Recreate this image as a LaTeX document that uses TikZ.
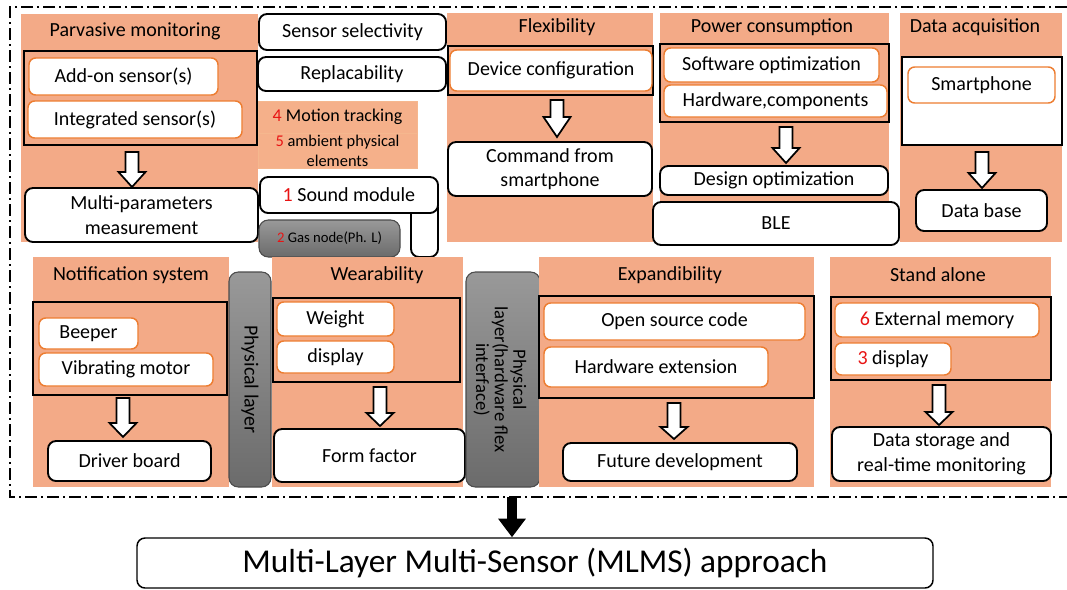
\documentclass[tikz,border=0pt]{standalone}
\usepackage{fontspec}
\setmainfont{Carlito}
\usetikzlibrary{arrows.meta,calc}
\definecolor{pnl}{RGB}{243,170,135}
\definecolor{orng}{RGB}{237,125,49}
\definecolor{lpnl}{RGB}{245,176,138}
\definecolor{num}{RGB}{232,20,20}
\newcommand\mainf{\fontsize{15}{18.5}\selectfont}
\newcommand\nm[1]{\textcolor{num}{#1}}
% box from corner (x1,y1) to (x2,y2) in px
\newcommand\bx[7][]{\node[#1, minimum width={(#5-#3)*0.75pt}, minimum height={(#6-#4)*0.75pt}] (#2) at ({(#3+#5)/2},{(#4+#6)/2}) {#7};}
\newcommand\harrow[4]{\draw[harr] ({#1-6.5},#2) -- ({#1+6.5},#2) -- ({#1+6.5},#3) -- ({#1+13.5},#3) -- (#1,#4) -- ({#1-13.5},#3) -- ({#1-6.5},#3) -- cycle;}
\tikzset{
 panel/.style={fill=pnl, draw=none, inner sep=0pt},
 grp/.style={draw=black, line width=1.3pt, inner sep=0pt},
 ibox/.style={fill=white, draw=orng, line width=1.1pt, rounded corners=5pt, inner sep=0pt, font=\mainf, align=center},
 obox/.style={fill=white, draw=black, line width=1.4pt, rounded corners=6pt, inner sep=0pt, font=\mainf, align=center},
 lbox/.style={fill=lpnl, draw=orng!55, line width=0.6pt, inner sep=0pt, align=center},
 gbar/.style={top color=black!40, bottom color=black!58, draw=black!70, line width=0.8pt, rounded corners=7pt, inner sep=0pt},
 ttl/.style={font=\mainf, inner sep=0pt},
 harr/.style={fill=white, draw=black, line width=1.3pt, line join=miter},
 frameline/.style={line width=1.5pt, dash pattern=on 9pt off 3pt on 1.5pt off 3pt},
}
\begin{document}
\begin{tikzpicture}[x=0.75pt,y=-0.75pt]
\useasboundingbox (0,0) rectangle (1067,589);
% frame
\coordinate (fTL) at (10,7); \coordinate (fTR) at (1067,7);
\coordinate (fBL) at (10,497); \coordinate (fBR) at (1067,497);
\coordinate (fOut) at (512,497);
\draw[frameline] (fTR) -- (fTL) -- (fBL) -- (fBR);

% ---------- top row ----------
\bx[panel]{p1}{21}{14}{258}{242}{}
\node[ttl] (p1t) at (135,31) {Parvasive monitoring};
\bx[grp]{g1}{24}{51}{257}{145}{}
\bx[ibox]{addon}{29}{58}{218}{95}{Add-on sensor(s)}
\bx[ibox]{integ}{28}{101}{242}{138}{Integrated sensor(s)}
\harrow{132}{152}{172}{187}
\bx[obox]{multi}{25}{188}{258}{242}{Multi-parameters\\measurement}

\bx[obox]{sel}{259}{14}{446}{50}{Sensor selectivity}
\bx[obox]{repl}{258}{57}{446}{91}{Replacability}
\bx[lbox, font=\fontsize{13.5}{15}\selectfont]{motion}{258}{101}{417}{133}{\nm{4} Motion tracking}
\bx[lbox, font=\fontsize{12.3}{15}\selectfont]{ambient}{258}{133}{417}{168}{\nm{5} ambient physical\\elements}
\bx[obox]{smallbox}{411}{200}{438}{257}{}
\bx[obox]{sound}{260}{177}{438}{213}{\nm{1} Sound module}
\bx[gbar, font=\fontsize{11}{12}\selectfont]{gas}{259}{220}{400}{257}{\nm{2} Gas node(Ph. L)}

\bx[panel]{p2}{447}{13}{653}{242}{}
\node[ttl] (p2t) at (557,27) {Flexibility};
\bx[grp]{g2}{448}{46}{653}{95}{}
\bx[ibox]{devconf}{450}{50}{652}{91}{Device configuration}
\harrow{557}{100}{117}{137}
\bx[obox]{cmd}{448}{142}{652}{196}{Command from\\smartphone}

\bx[panel]{p3}{660}{13}{889}{242}{}
\node[ttl] (p3t) at (772,27) {Power consumption};
\bx[grp]{g3}{660}{44}{889}{122}{}
\bx[ibox]{soft}{664}{48}{879}{82}{Software optimization}
\bx[ibox]{hard}{664}{85}{887}{117}{Hardware,components}
\harrow{786}{127}{148}{163}
\bx[obox]{design}{660}{166}{888}{195}{Design optimization}
\bx[obox]{ble}{653}{202}{899}{245}{BLE}

\bx[panel]{p4}{900}{13}{1062}{242}{}
\node[ttl] (p4t) at (975,27) {Data acquisition};
\bx[grp, fill=white]{g4}{902}{57}{1062}{145}{}
\bx[ibox]{smart}{908}{67}{1055}{103}{Smartphone}
\harrow{982}{152}{173}{188}
\bx[obox]{db}{916}{190}{1047}{231}{Data base}

% ---------- bottom row ----------
\bx[panel]{p5}{33}{257}{229}{487}{}
\node[ttl] (p5t) at (131,275) {Notification system};
\bx[grp]{g5}{33}{302}{227}{395}{}
\bx[ibox]{beep}{39}{318}{138}{349}{Beeper}
\bx[ibox]{vib}{39}{353}{213}{386}{Vibrating motor}
\harrow{123}{398}{423}{437}
\bx[obox]{driver}{48}{441}{211}{481}{Driver board}

\bx[gbar]{bar1}{229}{272}{271}{487}{}
\node[font=\fontsize{15}{17}\selectfont, rotate=-90] (bar1t) at (bar1.center) {Physical layer};

\bx[panel]{p6}{272}{257}{463}{487}{}
\node[ttl] (p6t) at (377,275) {Wearability};
\bx[grp]{g6}{273}{298}{460}{382}{}
\bx[ibox]{weight}{277}{302}{394}{336}{Weight}
\bx[ibox]{disp1}{277}{341}{394}{373}{display}
\harrow{380}{387}{413}{426}
\bx[obox]{form}{274}{429}{465}{482}{Form factor}

\bx[gbar]{bar2}{466}{272}{540}{487}{}
\node[font=\fontsize{14}{14}\selectfont, rotate=-90, align=center] (bar2t) at ($(bar2.center)+(-3,0)$) {Physical\\layer(hardware flex\\interface)};

\bx[panel]{p7}{539}{257}{814}{487}{}
\node[ttl] (p7t) at (670,275) {Expandibility};
\bx[grp]{g7}{539}{296}{814}{398}{}
\bx[ibox]{open}{544}{303}{805}{340}{Open source code}
\bx[ibox]{hwext}{544}{347}{768}{387}{Hardware extension}
\harrow{674}{403}{427}{439}
\bx[obox]{future}{563}{443}{797}{481}{Future development}

\bx[panel]{p8}{830}{257}{1051}{487}{}
\node[ttl] (p8t) at (938,275) {Stand alone};
\bx[grp]{g8}{831}{297}{1051}{380}{}
\bx[ibox]{extmem}{835}{303}{1039}{337}{\nm{6} External memory}
\bx[ibox]{disp2}{835}{343}{951}{375}{\nm{3} display}
\harrow{939}{385}{412}{425}
\bx[obox]{storage}{832}{427}{1051}{481}{Data storage and\\real-time monitoring}

% ---------- result ----------
\bx[draw=black, line width=1.1pt, rounded corners=6pt, fill=white, inner sep=0pt, font=\fontsize{25}{28}\selectfont]{mlms}{137}{538}{933}{588}{Multi-Layer Multi-Sensor (MLMS) approach}
\draw[line width=7.5pt, -{Triangle[length=14pt,width=20pt]}] (fOut) -- (mlms.north -| fOut);
\end{tikzpicture}
\end{document}
